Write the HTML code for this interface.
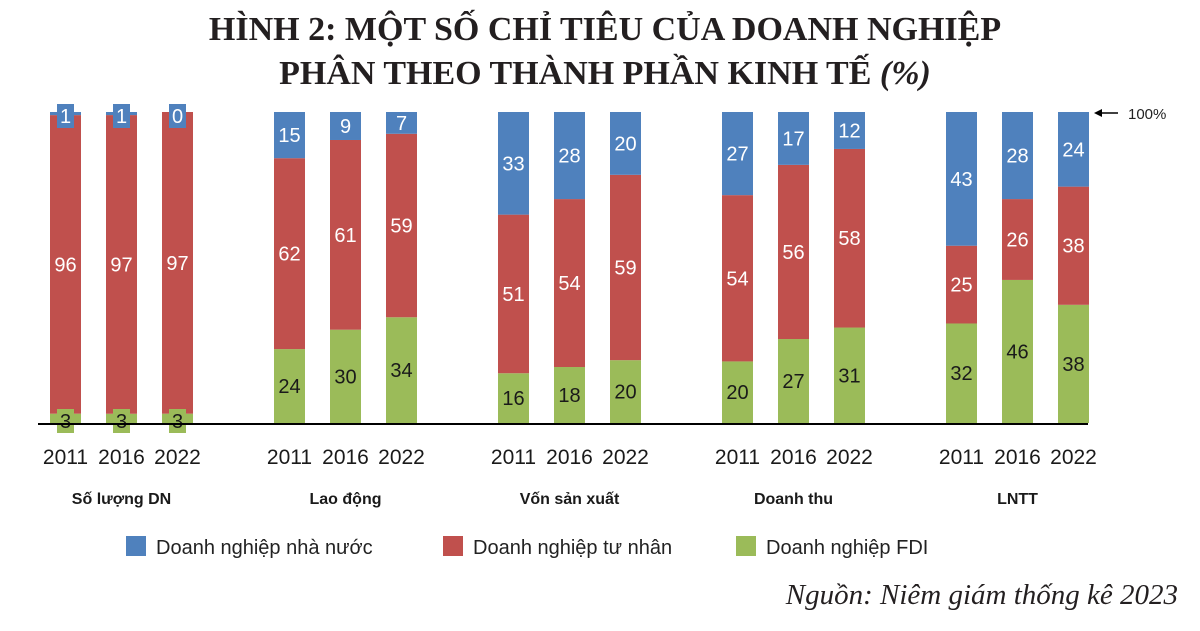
<!DOCTYPE html>
<html><head><meta charset="utf-8"><style>
body{margin:0;background:#fff;width:1200px;height:626px;overflow:hidden}
svg text{font-family:"Liberation Sans",sans-serif}
</style></head><body>
<svg width="1200" height="626" xmlns="http://www.w3.org/2000/svg">
<text x="605" y="40" text-anchor="middle" style="font-family:'Liberation Serif',serif;font-weight:bold;font-size:34px" fill="#231f20">HÌNH 2: MỘT SỐ CHỈ TIÊU CỦA DOANH NGHIỆP</text>
<text x="605" y="84" text-anchor="middle" style="font-family:'Liberation Serif',serif;font-weight:bold;font-size:34px" fill="#231f20">PHÂN THEO THÀNH PHẦN KINH TẾ <tspan font-style="italic">(%)</tspan></text>
<g id="bars"></g>
<line x1="38" y1="424" x2="1088" y2="424" stroke="#000" stroke-width="2"/>
<g>
<line x1="1098" y1="113" x2="1118" y2="113" stroke="#000" stroke-width="1.5"/>
<polygon points="1094,113 1102,109 1102,117" fill="#000"/>
<text x="1128" y="119" font-size="15" fill="#222">100%</text>
</g>
<g>
<rect x="126" y="536" width="20" height="20" fill="#4f81bd"/>
<text x="156" y="554" font-size="20" fill="#222">Doanh nghiệp nhà nước</text>
<rect x="443" y="536" width="20" height="20" fill="#c0504d"/>
<text x="473" y="554" font-size="20" fill="#222">Doanh nghiệp tư nhân</text>
<rect x="736" y="536" width="20" height="20" fill="#9bbb59"/>
<text x="766" y="554" font-size="20" fill="#222">Doanh nghiệp FDI</text>
</g>
<text x="1178" y="604" text-anchor="end" style="font-family:'Liberation Serif',serif;font-style:italic;font-size:29px" fill="#231f20">Nguồn: Niêm giám thống kê 2023</text>
</svg>
<script>
const groups = ["Số lượng DN","Lao động","Vốn sản xuất","Doanh thu","LNTT"];
const years = ["2011","2016","2022"];
const stateVals = [[1,1,0],[15,9,7],[33,28,20],[27,17,12],[43,28,24]];
const privateVals = [[96,97,97],[62,61,59],[51,54,59],[54,56,58],[25,26,38]];
const fdiVals = [[3,3,3],[24,30,34],[16,18,20],[20,27,31],[32,46,38]];

const NS="http://www.w3.org/2000/svg";
const g=document.getElementById('bars');
const top0=112, base=423, H=base-top0, bw=31;
function xPos(gi,yi){return 50+224*gi+56*yi;}
function yScale(p){return base-H*p/100;}
function mk(tag,attrs){const e=document.createElementNS(NS,tag);for(const k in attrs)e.setAttribute(k,attrs[k]);g.appendChild(e);return e;}
const series=[{v:fdiVals,c:"#9bbb59",t:"#1a1a1a",n:"fdi"},{v:privateVals,c:"#c0504d",t:"#fff",n:"private"},{v:stateVals,c:"#4f81bd",t:"#fff",n:"state"}];
groups.forEach((gn,gi)=>{
  years.forEach((yr,yi)=>{
    const tot=stateVals[gi][yi]+privateVals[gi][yi]+fdiVals[gi][yi];
    let cum=0;const x=xPos(gi,yi);
    const labels=[];
    series.forEach(s=>{
      const v=s.v[gi][yi];const p=v/tot*100;
      const y1=yScale(cum+p),y0=yScale(cum);
      const r=mk('rect',{x:x,y:y1,width:bw,height:Math.max(0,y0-y1),fill:s.c});
      
      
      labels.push({v,s,cy:(y0+y1)/2,small:v<5});
      cum+=p;
    });
    labels.forEach(l=>{
      let cy=l.cy;
      if(l.small){
        if(l.s.n==='state')cy=yScale(100)+4;else cy=base-2;
        const b=mk('rect',{x:x+7,y:cy-12,width:bw-14,height:24,fill:l.s.c});
        
        
      }
      const t=mk('text',{x:x+bw/2,y:cy+7,'text-anchor':'middle','font-size':20,fill:l.s.t});
      
      
      t.textContent=l.v;
    });
    const yt=mk('text',{x:x+bw/2,y:464,'text-anchor':'middle','font-size':21,fill:'#1a1a1a'});
    
    
    yt.textContent=yr;
  });
  const ct=mk('text',{x:xPos(gi,1)+bw/2,y:504,'text-anchor':'middle','font-size':16,'font-weight':'bold',fill:'#1a1a1a'});
  
  
  ct.textContent=gn;
});
</script>
</body></html>
